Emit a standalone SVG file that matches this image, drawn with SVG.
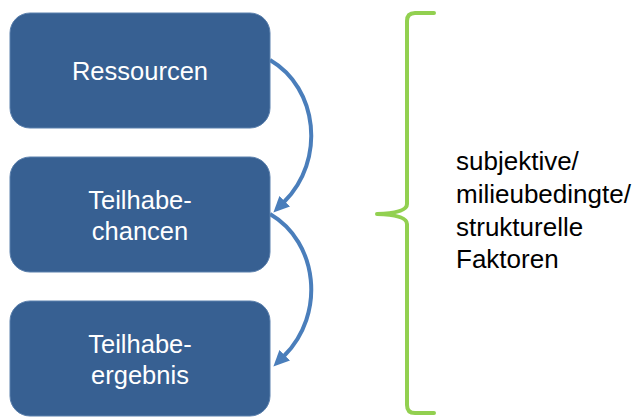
<svg xmlns="http://www.w3.org/2000/svg" width="637" height="417" viewBox="0 0 637 417">
  <defs>
    <marker id="ah" markerUnits="userSpaceOnUse" markerWidth="17" markerHeight="15" refX="1" refY="7.5" orient="auto">
      <path d="M0,0 L16,7.5 L0,15 z" fill="#4a7ebb"/>
    </marker>
    <style>
      .box { fill: #376092; stroke: #5b80ad; stroke-width: 1; }
      .bt { fill: #ffffff; font-family: "Liberation Sans", Arial, sans-serif; font-size: 25.5px; text-anchor: middle; }
      .conn { fill: none; stroke: #4a7ebb; stroke-width: 4; marker-end: url(#ah); }
      .brace { fill: none; stroke: #92d050; stroke-width: 4; stroke-linejoin: round; stroke-linecap: round; }
      .rt { fill: #000000; font-family: "Liberation Sans", Arial, sans-serif; font-size: 26px; }
    </style>
  </defs>
  <rect width="637" height="417" fill="#ffffff"/>
  <g id="connectors">
    <path class="conn" d="M270,60 C318,88 326,160 284,202"/>
    <path class="conn" d="M270,214 C318,242 326,314 284,356"/>
  </g>
  <g id="ressourcen">
    <rect class="box" x="10" y="13" width="260" height="115" rx="20"/>
    <text class="bt" x="140" y="80">Ressourcen</text>
  </g>
  <g id="teilhabechancen">
    <rect class="box" x="10" y="157" width="260" height="115" rx="20"/>
    <text class="bt" x="140" y="209">Teilhabe-</text>
    <text class="bt" x="140" y="240">chancen</text>
  </g>
  <g id="teilhabeergebnis">
    <rect class="box" x="10" y="301" width="260" height="115" rx="20"/>
    <text class="bt" x="140" y="353">Teilhabe-</text>
    <text class="bt" x="140" y="384">ergebnis</text>
  </g>
  <g id="brace">
    <path class="brace" d="M434,13 L415,13 Q407,13 407,21 L407,204 Q407,213 377,214 Q407,215 407,224 L407,405 Q407,413 415,413 L434,413"/>
  </g>
  <g id="faktoren">
    <text class="rt" x="456" y="170">subjektive/</text>
    <text class="rt" x="456" y="203">milieubedingte/</text>
    <text class="rt" x="456" y="236">strukturelle</text>
    <text class="rt" x="456" y="268">Faktoren</text>
  </g>
</svg>
